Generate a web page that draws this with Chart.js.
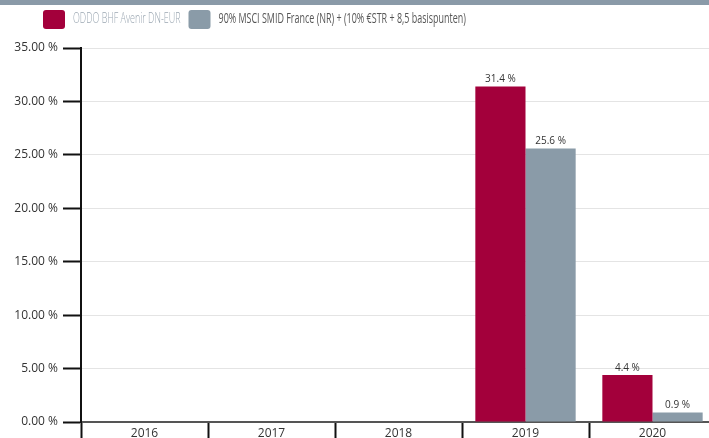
<!DOCTYPE html>
<html>
<head>
<meta charset="utf-8">
<script src="https://cdn.jsdelivr.net/npm/chart.js@4/dist/chart.umd.min.js"></script>
<style>
  html, body { margin: 0; padding: 0; background: #fff; overflow: hidden; }
  #band { position: absolute; left: 0; top: 0; width: 709px; height: 5px; background: #8a9aa8; }
  #wrap { position: absolute; left: 0; top: 0; }
</style>
</head>
<body>
<div id="band"></div>
<div id="wrap"><canvas id="chart" width="716" height="460"></canvas></div>
<script>
const years = ['2016', '2017', '2018', '2019', '2020'];
const fundName = 'ODDO BHF Avenir DN-EUR';
const benchName = '90% MSCI SMID France (NR) + (10% €STR + 8,5 basispunten)';
const fundValues = [null, null, null, 31.4, 4.4];
const benchValues = [null, null, null, 25.6, 0.9];
const yTicks = [0, 5, 10, 15, 20, 25, 30, 35];

const RED = '#a3003b';
const GREY = '#8a9ba8';

// value labels above the bars
const valueLabels = {
  id: 'valueLabels',
  afterDatasetsDraw(chart) {
    const ctx = chart.ctx;
    ctx.save();
    ctx.font = '10px "Open Sans"';
    ctx.fillStyle = '#333';
    ctx.textAlign = 'center';
    ctx.textBaseline = 'bottom';
    chart.data.datasets.forEach((ds, i) => {
      chart.getDatasetMeta(i).data.forEach((bar, j) => {
        const v = ds.data[j];
        if (v === null) return;
        ctx.fillText(v.toFixed(1) + ' %', bar.x, bar.y - 2);
      });
    });
    ctx.restore();
  },
};

// legend with a condensed look (no narrow font installed, so squeeze the text)
const squeezedLegend = {
  id: 'squeezedLegend',
  afterDraw(chart) {
    const ctx = chart.ctx;
    const textColors = ['#9ba7b2', '#555'];
    const weights = ['300', '400'];
    const squeeze = 0.64;
    let x = 43;
    const y = 10;
    ctx.save();
    ctx.textBaseline = 'middle';
    chart.data.datasets.forEach((ds, i) => {
      ctx.fillStyle = ds.backgroundColor;
      ctx.beginPath();
      ctx.roundRect(x, y, 22, 19, 3);
      ctx.fill();
      x += 30;
      ctx.font = weights[i] + ' 14px "Open Sans"';
      ctx.fillStyle = textColors[i];
      const w = ctx.measureText(ds.label).width * squeeze;
      ctx.save();
      ctx.translate(x, y + 9.5);
      ctx.scale(squeeze, 1);
      ctx.fillText(ds.label, 0, 0);
      ctx.restore();
      x += w + 8;
    });
    ctx.restore();
  },
};

new Chart(document.getElementById('chart'), {
  type: 'bar',
  data: {
    labels: years,
    datasets: [
      { label: fundName, data: fundValues, backgroundColor: RED },
      { label: benchName, data: benchValues, backgroundColor: GREY },
    ],
  },
  options: {
    responsive: false,
    animation: false,
    devicePixelRatio: 1,
    layout: { padding: { top: 48, right: 0, left: 0, bottom: 0 } },
    datasets: {
      bar: { categoryPercentage: 0.79, barPercentage: 1 },
    },
    scales: {
      x: {
        grid: {
          drawOnChartArea: false,
          drawTicks: true,
          tickLength: 20,
          tickColor: '#111',
          tickWidth: 2,
        },
        border: { color: '#555', width: 2 },
        ticks: {
          padding: -16,
          color: '#333',
          font: { family: '"Open Sans"', size: 12 },
        },
        afterFit(scale) { scale.height = 38; },
      },
      y: {
        min: 0,
        max: 35,
        afterBuildTicks(scale) {
          scale.ticks = yTicks.map((v) => ({ value: v }));
        },
        grid: {
          color: '#e4e4e4',
          lineWidth: 1,
          tickLength: 18,
          tickColor: '#111',
          tickWidth: 2,
        },
        border: { color: '#111', width: 2 },
        ticks: {
          padding: 5,
          color: '#333',
          font: { family: '"Open Sans"', size: 12 },
          callback: (v) => v.toFixed(2) + ' %',
        },
        afterFit(scale) { scale.width = 81; },
      },
    },
    plugins: {
      legend: { display: false },
      tooltip: { enabled: false },
    },
  },
  plugins: [valueLabels, squeezedLegend],
});
</script>
</body>
</html>
